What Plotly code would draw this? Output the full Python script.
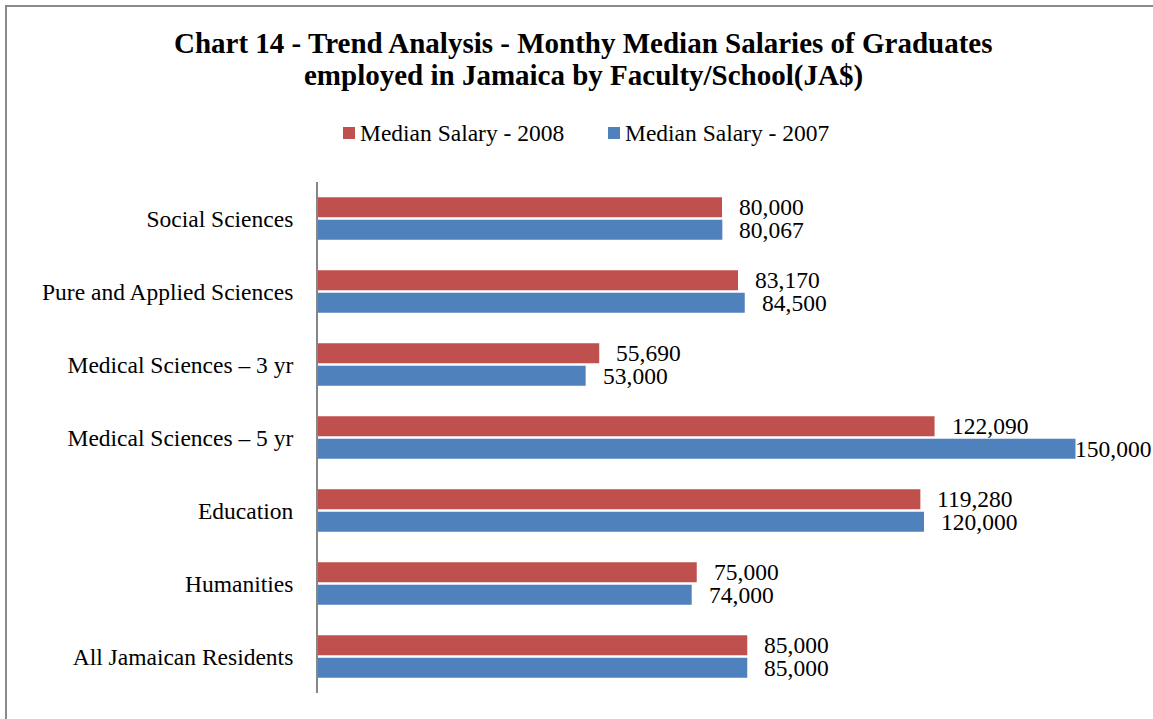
import plotly.graph_objects as go

categories = ["Social Sciences", "Pure and Applied Sciences", "Medical Sciences \u2013 3 yr",
              "Medical Sciences \u2013 5 yr", "Education", "Humanities", "All Jamaican Residents"]
salary_2008 = [80000, 83170, 55690, 122090, 119280, 75000, 85000]
salary_2007 = [80067, 84500, 53000, 150000, 120000, 74000, 85000]
series_names = ["Median Salary - 2008", "Median Salary - 2007"]
title_lines = ["Chart 14 - Trend Analysis - Monthy Median Salaries of Graduates",
               "employed in Jamaica by Faculty/School(JA$)"]

W, H = 1153, 719
ML, MR, MT, MB = 318, 27, 182, 26
PW, PH = W - ML - MR, H - MT - MB
XMAX = 160000
BARGAP, GROUPGAP = 0.384, 0.11
RED, BLUE = "#C0504D", "#4F81BD"
FONT = "Liberation Serif, Times New Roman, serif"


def px_x(p):
    return (p - ML) / PW


def px_y(p):
    return (H - MB - p) / PH


fig = go.Figure()
fig.add_trace(go.Bar(y=categories, x=salary_2008, orientation="h", name=series_names[0],
                     marker=dict(color=RED, line=dict(width=0))))
fig.add_trace(go.Bar(y=categories, x=salary_2007, orientation="h", name=series_names[1],
                     marker=dict(color=BLUE, line=dict(width=0))))

band = PH / len(categories)
slot = band * (1 - BARGAP) / 2
offset = slot / 2
vmax = max(salary_2008 + salary_2007)
annotations = []
for vals, shift in ((salary_2008, offset), (salary_2007, -offset)):
    for c, v in zip(categories, vals):
        annotations.append(dict(
            x=v, y=c, xref="x", yref="y", text=f"{v:,}", showarrow=False,
            xanchor="left", yanchor="middle", xshift=(-3 if v == vmax else 15), yshift=shift,
            font=dict(family=FONT, size=23.5, color="black")))

for line, ypx in zip(title_lines, (43, 76)):
    annotations.append(dict(
        x=px_x(583), y=px_y(ypx), xref="paper", yref="paper", text=f"<b>{line}</b>",
        showarrow=False, xanchor="center", yanchor="middle",
        font=dict(family=FONT, size=29, color="black")))

# legend (custom, Excel style: small square right next to the text)
shapes = []
for name, color, sq_left in zip(series_names, (RED, BLUE), (343, 608)):
    shapes.append(dict(type="rect", xref="paper", yref="paper",
                       x0=px_x(sq_left), x1=px_x(sq_left + 12), y0=px_y(139), y1=px_y(127),
                       fillcolor=color, line=dict(width=0)))
    annotations.append(dict(
        x=px_x(sq_left + 15), y=px_y(133), xref="paper", yref="paper", text=name,
        showarrow=False, xanchor="left", yanchor="middle",
        font=dict(family=FONT, size=23.5, color="black")))

shapes.append(dict(type="rect", xref="paper", yref="paper",
                   x0=px_x(6), x1=px_x(1162), y0=px_y(728), y1=px_y(6),
                   line=dict(color="#8a8a8a", width=2), fillcolor="rgba(0,0,0,0)", layer="below"))

fig.update_layout(
    width=W, height=H,
    margin=dict(l=ML, r=MR, t=MT, b=MB, pad=0),
    paper_bgcolor="white", plot_bgcolor="white",
    barmode="group", bargap=BARGAP, bargroupgap=GROUPGAP,
    showlegend=False,
    xaxis=dict(range=[0, XMAX], showgrid=False, zeroline=False, showline=False,
               showticklabels=False, ticks=""),
    yaxis=dict(autorange="reversed", showgrid=False, zeroline=False, showline=True,
               linecolor="#868686", linewidth=2, ticks="", ticklabelstandoff=18,
               tickfont=dict(family=FONT, size=23.5, color="black")),
    annotations=annotations,
    shapes=shapes,
)

fig.write_html("out.html", config={"displayModeBar": False},
               post_script="document.body.style.margin='0';document.body.style.padding='0';")
